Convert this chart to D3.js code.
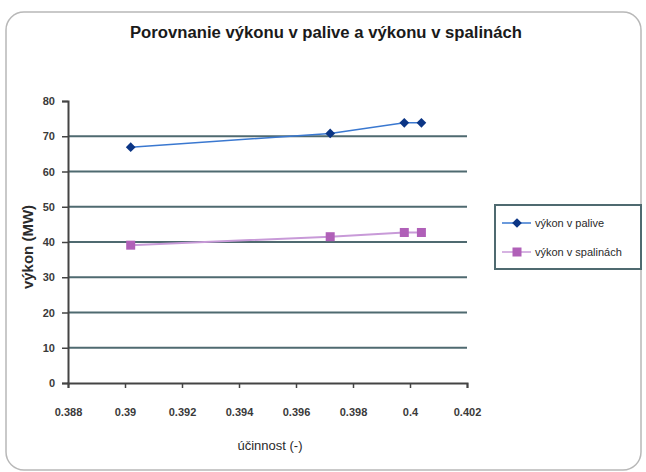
<!DOCTYPE html>
<html><head><meta charset="utf-8">
<script src="https://cdn.jsdelivr.net/npm/d3@7/dist/d3.min.js"></script>
<style>html,body{margin:0;padding:0;background:#fff;}svg{display:block;}</style>
</head><body>
<svg id="c" width="646" height="472"></svg>
<script>
const efficiency = [0.3902, 0.3972, 0.3998, 0.4004];
const fuelPower = [66.9, 70.8, 73.8, 73.8];
const fluePower = [39.1, 41.5, 42.7, 42.7];
const xTicks = [0.388, 0.39, 0.392, 0.394, 0.396, 0.398, 0.4, 0.402];
const yTicks = [0, 10, 20, 30, 40, 50, 60, 70, 80];
const seriesNames = ["výkon v palive", "výkon v spalinách"];
const title = "Porovnanie výkonu v palive a výkonu v spalinách";

const svg = d3.select("#c");
const font = "Liberation Sans, Arial, sans-serif";

svg.append("rect").attr("x", 6).attr("y", 12).attr("width", 635).attr("height", 458)
  .attr("rx", 18).attr("fill", "#fff").attr("stroke", "#b8b8b8").attr("stroke-width", 1.5);

const x = d3.scaleLinear().domain([0.388, 0.402]).range([68, 467]);
const y = d3.scaleLinear().domain([0, 80]).range([383, 101]);

// gridlines
svg.append("g").selectAll("line").data(yTicks.filter(v => v > 0 && v < 80)).join("line")
  .attr("x1", 68).attr("x2", 467).attr("y1", d => y(d)).attr("y2", d => y(d))
  .attr("stroke", "#4f6a70").attr("stroke-width", 2);

// y axis
const ya = svg.append("g").attr("transform", "translate(68,0)")
  .call(d3.axisLeft(y).tickValues(yTicks).tickSize(6).tickFormat(d3.format("d")));
ya.select(".domain").attr("stroke", "#444").attr("stroke-width", 2);
ya.selectAll(".tick line").attr("stroke", "#444").attr("stroke-width", 1.5);
ya.selectAll("text").attr("font-family", font).attr("font-size", 11).attr("font-weight", "bold")
  .attr("fill", "#3a3a3a").attr("x", -13);

// x axis
const xa = svg.append("g").attr("transform", "translate(0,383)")
  .call(d3.axisBottom(x).tickValues(xTicks).tickSize(5).tickFormat(d => String(+d.toFixed(3))));
xa.select(".domain").attr("stroke", "#444").attr("stroke-width", 2);
xa.selectAll(".tick line").attr("stroke", "#444").attr("stroke-width", 1.5);
xa.selectAll("text").attr("font-family", font).attr("font-size", 11).attr("font-weight", "bold")
  .attr("fill", "#3a3a3a").attr("y", 25);

// title
svg.append("text").attr("x", 326).attr("y", 38).attr("text-anchor", "middle")
  .attr("font-family", font).attr("font-size", 16).attr("font-weight", "bold").attr("fill", "#1a1a1a")
  .attr("textLength", 392).attr("lengthAdjust", "spacingAndGlyphs").text(title);

// axis titles
svg.append("text").attr("transform", "translate(33,247) rotate(-90)").attr("text-anchor", "middle")
  .attr("font-family", font).attr("font-size", 15).attr("font-weight", "bold").attr("fill", "#2a2a2a")
  .text("výkon (MW)");
svg.append("text").attr("x", 270).attr("y", 450).attr("text-anchor", "middle")
  .attr("font-family", font).attr("font-size", 13).attr("fill", "#2a2a2a")
  .text("účinnost (-)");

const line = d3.line().x(d => x(d[0])).y(d => y(d[1]));
const fuelData = efficiency.map((e, i) => [e, fuelPower[i]]);
const flueData = efficiency.map((e, i) => [e, fluePower[i]]);

const blueLine = "#3a78d0", blueMark = "#0b3585";
const pinkLine = "#c89ad8", pinkMark = "#b060b8";

svg.append("path").datum(fuelData).attr("d", line).attr("fill", "none").attr("stroke", blueLine).attr("stroke-width", 1.5);
svg.append("path").datum(flueData).attr("d", line).attr("fill", "none").attr("stroke", pinkLine).attr("stroke-width", 2);

const diamond = d3.symbol().type(d3.symbolDiamond2).size(60);
svg.append("g").selectAll("path").data(fuelData).join("path")
  .attr("transform", d => `translate(${x(d[0])},${y(d[1])})`).attr("d", diamond).attr("fill", blueMark);
svg.append("g").selectAll("rect").data(flueData).join("rect")
  .attr("x", d => x(d[0]) - 4.5).attr("y", d => y(d[1]) - 4.5).attr("width", 9).attr("height", 9)
  .attr("fill", pinkMark);

// legend
const lg = svg.append("g");
lg.append("rect").attr("x", 495).attr("y", 205).attr("width", 146).attr("height", 64)
  .attr("fill", "#fff").attr("stroke", "#4f6a70").attr("stroke-width", 2);
const items = [
  {name: seriesNames[0], lc: blueLine, mc: blueMark, shape: "d"},
  {name: seriesNames[1], lc: pinkLine, mc: pinkMark, shape: "s"}
];
items.forEach((it, i) => {
  const yy = 223 + i * 29;
  lg.append("line").attr("x1", 502).attr("x2", 531).attr("y1", yy).attr("y2", yy)
    .attr("stroke", it.lc).attr("stroke-width", 1.5);
  if (it.shape === "d") {
    lg.append("path").attr("transform", `translate(517,${yy})`).attr("d", diamond).attr("fill", it.mc);
  } else {
    lg.append("rect").attr("x", 512.5).attr("y", yy - 4.5).attr("width", 9).attr("height", 9).attr("fill", it.mc);
  }
  lg.append("text").attr("x", 535).attr("y", yy + 4).attr("font-family", font).attr("font-size", 11)
    .attr("fill", "#2a2a2a").text(it.name);
});
</script>
</body></html>
